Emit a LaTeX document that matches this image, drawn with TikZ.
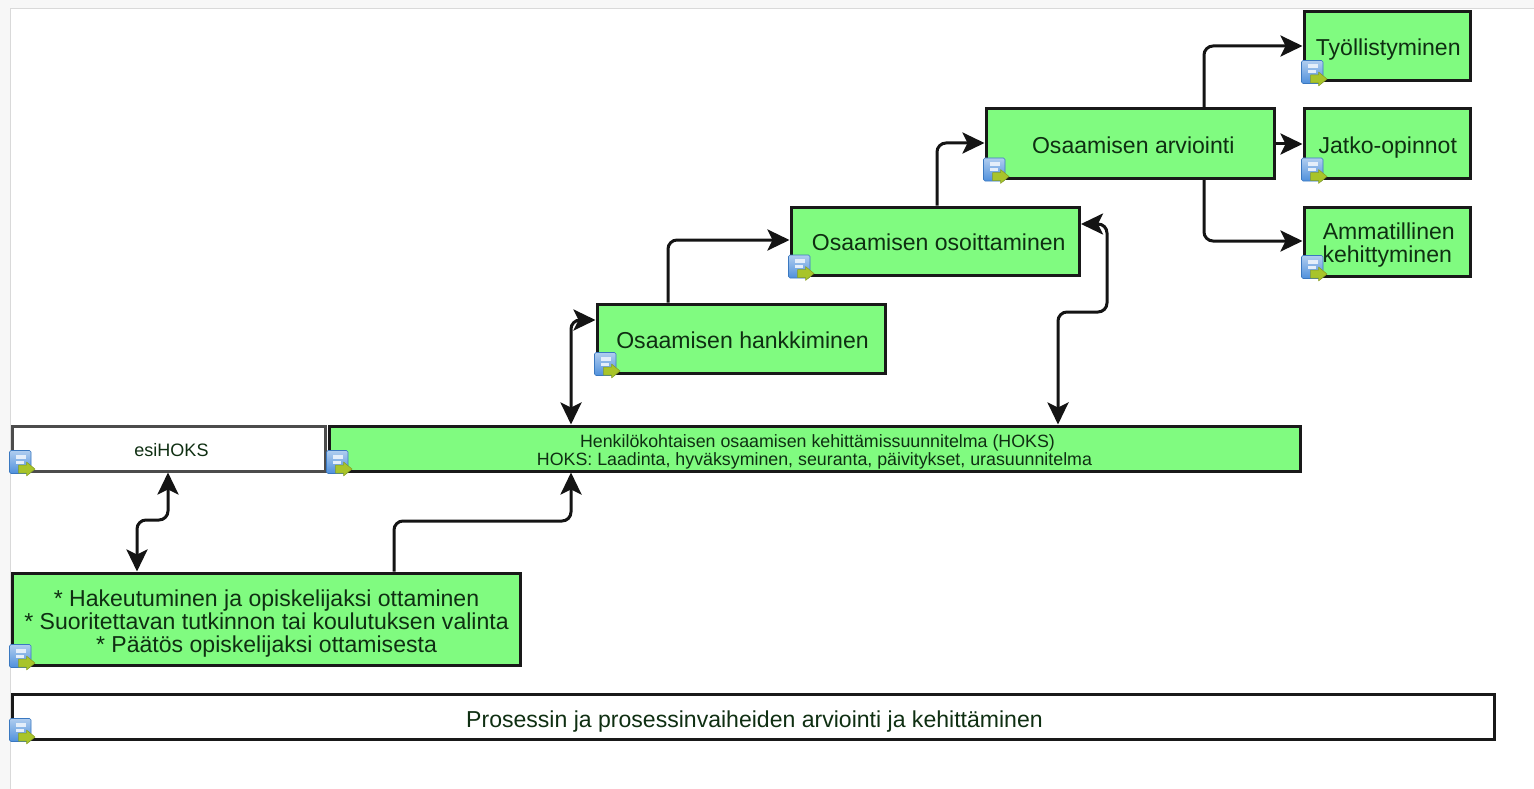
\documentclass[tikz,border=0pt]{standalone}
\usepackage{fontspec}
\setmainfont{Liberation Sans}
\usetikzlibrary{arrows.meta}
\definecolor{boxgreen}{HTML}{80FB80}
\definecolor{txtdark}{HTML}{0F2F12}
\definecolor{iconblue}{HTML}{4F90DC}
\definecolor{iconedge}{HTML}{3A78C0}
\definecolor{arrowgreen}{HTML}{A8C42A}
\tikzset{
  stage/.style={draw=black!90,line width=3pt,fill=boxgreen,inner sep=0pt,align=center,anchor=north west,font=\fontsize{23.05}{23}\selectfont,text=txtdark},
  plainbox/.style={stage,fill=white},
  drop/.style 2 args={execute at begin node={\rule{0pt}{#1}\hspace*{#2}}},
  conn/.style={line width=3pt,draw=black!92,rounded corners=9pt},
  tip/.tip={Stealth[length=22pt,width=21pt,inset=5pt]},
  one/.style={conn,-tip},
  both/.style={conn,tip-tip},
  docicon/.pic={
    \shade[top color=iconblue!45!white,bottom color=iconblue,draw=iconedge,line width=.6pt,rounded corners=1.5pt] (-1,-22) rectangle (20.5,1);
    \fill[white!85!iconblue] (5,-18) rectangle (15,-14);
    \fill[white!85!iconblue] (5,-12) rectangle (13,-9);
    \fill[arrowgreen,draw=arrowgreen!80!black,line width=.5pt,line join=round] (8,-7.5) -- (16,-7.5) -- (16,-10.5) -- (24.5,-3.5) -- (16,3.5) -- (16,0.5) -- (8,0.5) -- cycle;
  }
}
\begin{document}
\begin{tikzpicture}[x=1pt,y=-1pt]
\useasboundingbox (0,0) rectangle (1534,789);
\fill[black!3] (0,0) rectangle (1534,789);
\fill[white] (10,9) rectangle (1534,789);
\draw[black!15,line width=1pt] (10,789) -- (10,9) -- (1534,9);

\begin{scope}[shift={(-1.5,-1.5)}]
\node[plainbox,minimum width=313pt,minimum height=45pt,font=\fontsize{18}{20}\selectfont,draw=black!70,drop={17pt}{6pt}] (esi) at (12,426) {esiHOKS};
\node[stage,minimum width=971pt,minimum height=45pt,font=\fontsize{17.8}{18}\selectfont] (hoks) at (329,426) {\mbox{}\\[2pt]\hspace*{6pt}Henkilökohtaisen osaamisen kehittämissuunnitelma (HOKS)\\HOKS: Laadinta, hyväksyminen, seuranta, päivitykset, urasuunnitelma};
\node[stage,minimum width=508pt,minimum height=92pt] (haku) at (12,573) {\mbox{}\\[3pt]\hspace*{1pt}* Hakeutuminen ja opiskelijaksi ottaminen\\\hspace*{1pt}* Suoritettavan tutkinnon tai koulutuksen valinta\\\hspace*{1pt}* Päätös opiskelijaksi ottamisesta};
\node[plainbox,minimum width=1482pt,minimum height=45pt,drop={26.7pt}{3pt}] (arv) at (12,694) {Prosessin ja prosessinvaiheiden arviointi ja kehittäminen};
\node[stage,minimum width=288pt,minimum height=69pt,drop={20.7pt}{3pt}] (hank) at (597,304) {Osaamisen hankkiminen};
\node[stage,minimum width=288.5pt,minimum height=68.5pt,drop={18pt}{7pt}] (osoit) at (791,207) {Osaamisen osoittaminen};
\node[stage,minimum width=288.5pt,minimum height=69.5pt,drop={20.7pt}{6pt}] (arvi) at (986,109) {Osaamisen arviointi};
\node[stage,minimum width=166.5pt,minimum height=69pt,drop={22.7pt}{2pt}] (tyo) at (1304,12) {Työllistyminen};
\node[stage,minimum width=166.5pt,minimum height=69.5pt,drop={24.7pt}{1pt}] (jat) at (1304,109) {Jatko-opinnot};
\node[stage,minimum width=166.5pt,minimum height=69pt] (amm) at (1304,207) {\mbox{}\\[1pt]\hspace*{3pt}Ammatillinen\\kehittyminen};
\end{scope}

\draw[both] (haku.north -| 137,0) |- (168,520) -- (esi.south -| 168,0);
\draw[one] (haku.north -| 394,0) |- (571,521) -- (hoks.south -| 571,0);
\draw[both] (hoks.north -| 571,0) |- (hank.west |- 0,320);
\draw[both] (hoks.north -| 1058,0) |- (1107,312) -- (1107,224) -- (osoit.east |- 0,224);
\draw[one] (hank.north -| 668,0) |- (osoit.west |- 0,240);
\draw[one] (osoit.north -| 937,0) |- (arvi.west |- 0,143);
\draw[one] (arvi.north -| 1204,0) |- (tyo.west |- 0,46);
\draw[one] (arvi.east |- 0,144) -- (jat.west |- 0,144);
\draw[one] (arvi.south -| 1204,0) |- (amm.west |- 0,241);

\foreach \n in {esi,hoks,haku,arv,hank,osoit,arvi,tyo,jat,amm}{
  \pic at (\n.south west) {docicon};
}
\end{tikzpicture}
\end{document}
